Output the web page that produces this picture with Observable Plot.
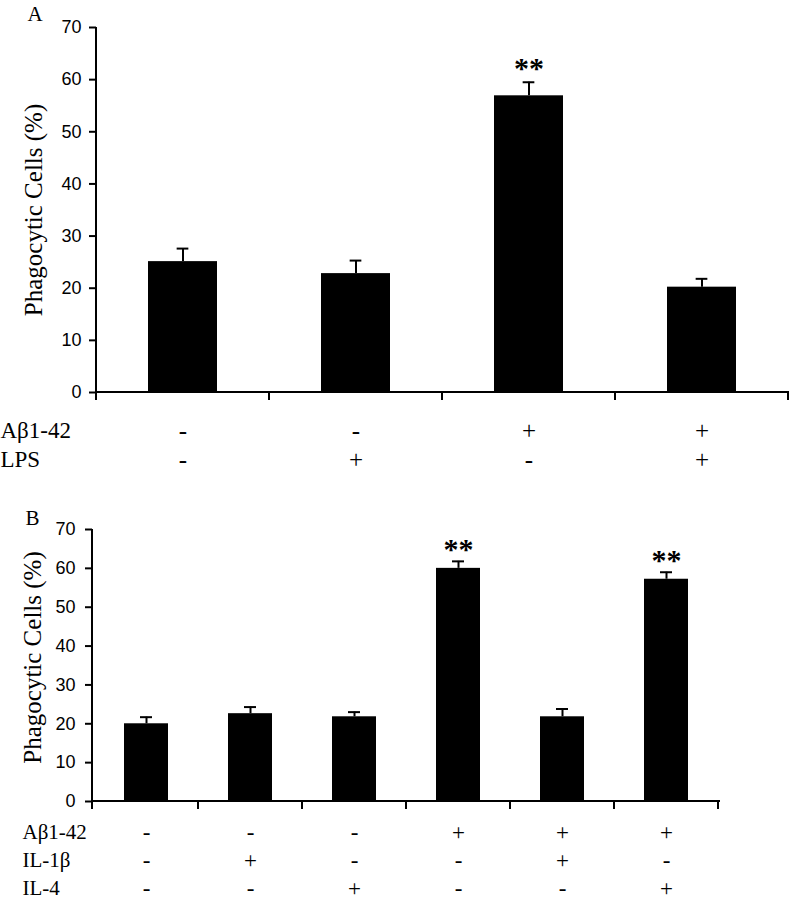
<!DOCTYPE html>
<html>
<head>
<meta charset="utf-8">
<script src="https://cdn.jsdelivr.net/npm/d3@7"></script>
<script src="https://cdn.jsdelivr.net/npm/@observablehq/plot@0.6"></script>
<style>
  body { margin: 0; background: #fff; }
  #chart svg { display: block; }
</style>
</head>
<body>
<div id="chart"></div>
<script>
// ---------- Data ----------
const yTicks = [0, 10, 20, 30, 40, 50, 60, 70];
const yLabel = "Phagocytic Cells (%)";

// Panel A
const groupsA = ["A1", "A2", "A3", "A4"];
const meansA = [25.1, 22.8, 56.9, 20.2];
const errA = [2.5, 2.5, 2.6, 1.6];
const sigA = ["", "", "**", ""];
const rowLabelsA = ["Aβ1-42", "LPS"];
const abetaA = ["-", "-", "+", "+"];
const lpsA = ["-", "+", "-", "+"];

// Panel B
const groupsB = ["B1", "B2", "B3", "B4", "B5", "B6"];
const meansB = [20.0, 22.6, 21.8, 60.0, 21.8, 57.2];
const errB = [1.7, 1.7, 1.2, 1.8, 2.0, 1.8];
const sigB = ["", "", "", "**", "", "**"];
const rowLabelsB = ["Aβ1-42", "IL-1β", "IL-4"];
const abetaB = ["-", "-", "-", "+", "+", "+"];
const il1bB = ["-", "+", "-", "-", "+", "-"];
const il4B = ["-", "-", "+", "-", "-", "+"];

// ---------- Helpers ----------
const SERIF = "'Liberation Serif', 'Times New Roman', serif";
const SANS = "'Liberation Sans', Arial, sans-serif";

function axesLines(yMax) {
  return (index, scales, values, dimensions) => {
    const {x, y} = scales;
    const g = d3.create("svg:g")
      .attr("stroke", "black").attr("stroke-width", 2).attr("fill", "none");
    const x0 = dimensions.marginLeft;
    const x1 = dimensions.width - dimensions.marginRight;
    const y0 = y(0);
    g.append("line").attr("x1", x0).attr("x2", x1).attr("y1", y0).attr("y2", y0);
    g.append("line").attr("x1", x0).attr("x2", x0).attr("y1", y(yMax)).attr("y2", y0 + 8);
    const pad = (x.step() - x.bandwidth()) / 2;
    for (const d of x.domain()) {
      const bx = x(d) + x.bandwidth() + pad;
      g.append("line").attr("x1", bx).attr("x2", bx).attr("y1", y0).attr("y2", y0 + 8);
    }
    return g.node();
  };
}

function panel(cfg) {
  const {groups, means, errs, sigs, rows, rowLabels, width, height,
         marginLeft, marginRight, marginTop, marginBottom,
         paddingInner, capWidth, rowDy, rowFont, labelDx, labelDy,
         letter, letterDx, letterDy, rowLabelDx, tickPadding, starDy} = cfg;
  const n = groups.length;
  const step = (width - marginLeft - marginRight) / n;
  const bw = step * (1 - paddingInner);
  const capInset = (bw - capWidth) / 2;
  const top = (d, i) => means[i] + errs[i];

  const marks = [
    Plot.barY(groups, {x: d => d, y: (d, i) => means[i], fill: "black"}),
    Plot.ruleX(groups, {x: d => d, y1: (d, i) => means[i], y2: top, stroke: "black", strokeWidth: 2}),
    Plot.tickY(groups, {x: d => d, y: top, stroke: "black", strokeWidth: 2,
                        insetLeft: capInset, insetRight: capInset}),
    Plot.text(groups, {x: d => d, y: top, text: (d, i) => sigs[i], dy: starDy,
                       fontSize: 30, fontWeight: "bold", fontFamily: SERIF, fill: "black",
                       textAnchor: "middle", lineAnchor: "middle"}),
    Plot.axisY({ticks: yTicks, tickSize: 7, tickPadding, fontSize: 18,
                fontFamily: SANS, strokeWidth: 2, label: null, color: "black"}),
    axesLines(d3.max(yTicks)),
    Plot.text([yLabel], {text: d => d, frameAnchor: "left", rotate: -90,
                         textAnchor: "middle", lineAnchor: "middle",
                         dx: labelDx, dy: labelDy, fontSize: 25, fontFamily: SERIF, fill: "black"}),
    Plot.text([letter], {text: d => d, frameAnchor: "top-left", dx: letterDx, dy: letterDy,
                         textAnchor: "start", lineAnchor: "middle",
                         fontSize: 21, fontFamily: SERIF, fill: "black"})
  ];
  rows.forEach((signs, r) => {
    marks.push(Plot.text(groups, {x: d => d, text: (d, i) => signs[i], frameAnchor: "bottom",
                                  dy: rowDy[r], textAnchor: "middle", lineAnchor: "middle",
                                  fontSize: rowFont + 2, fontFamily: SERIF, fill: "black"}));
    marks.push(Plot.text([rowLabels[r]], {text: d => d, frameAnchor: "bottom-left",
                                  dx: rowLabelDx, dy: rowDy[r], textAnchor: "start", lineAnchor: "middle",
                                  fontSize: rowFont, fontFamily: SERIF, fill: "black"}));
  });

  return Plot.plot({
    width, height, marginLeft, marginRight, marginTop, marginBottom,
    style: {background: "white", color: "black", overflow: "visible",
            fontSize: "18px", fontFamily: SANS},
    x: {domain: groups, paddingInner, paddingOuter: paddingInner / 2, axis: null},
    y: {domain: [0, d3.max(yTicks)], axis: null},
    marks
  });
}

const chart = document.getElementById("chart");

chart.append(panel({
  groups: groupsA, means: meansA, errs: errA, sigs: sigA,
  rows: [abetaA, lpsA], rowLabels: rowLabelsA,
  width: 794, height: 490, marginLeft: 96, marginRight: 5, marginTop: 27, marginBottom: 98,
  paddingInner: 0.6, capWidth: 12, rowDy: [38, 67], rowFont: 23,
  labelDx: -63, labelDy: 0, letter: "A", letterDx: -69, letterDy: -13,
  rowLabelDx: -96, tickPadding: 8, starDy: -14
}));

chart.append(panel({
  groups: groupsB, means: meansB, errs: errB, sigs: sigB,
  rows: [abetaB, il1bB, il4B], rowLabels: rowLabelsB,
  width: 794, height: 410, marginLeft: 92, marginRight: 74, marginTop: 39, marginBottom: 99,
  paddingInner: 0.58, capWidth: 12, rowDy: [31, 59, 87], rowFont: 21,
  labelDx: -60, labelDy: -8, letter: "B", letterDx: -67, letterDy: -11,
  rowLabelDx: -70, tickPadding: 10, starDy: -12
}));
</script>
</body>
</html>
